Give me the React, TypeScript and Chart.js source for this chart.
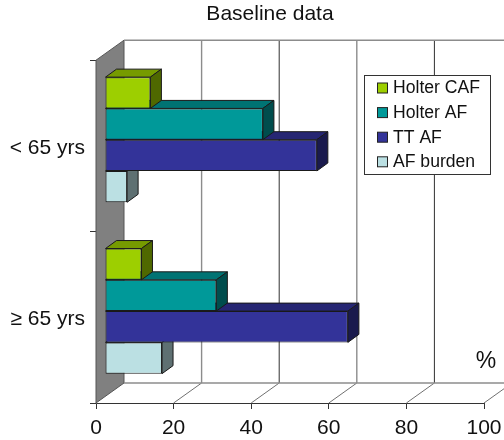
import React, { useEffect, useRef } from "react";
import { Chart, registerables } from "chart.js";

Chart.register(...registerables);

const FONT = "'Liberation Sans', Arial, sans-serif";

const categories = ["< 65 yrs", "≥ 65 yrs"];
const holterCaf = [11.7, 9.4];
const holterAf = [40.7, 28.7];
const ttAf = [54.6, 62.6];
const afBurden = [5.7, 14.7];
const xTicks = [0, 20, 40, 60, 80, 100];

const colors = {
  holterCaf: "#9dcf00",
  holterAf: "#009999",
  ttAf: "#333399",
  afBurden: "#bbe0e3",
};

// Depth of the box around the plot, and of the bars standing inside it.
const WALL = { dx: 28, dy: -20 };
const BAR_INSET = { dx: 9, dy: -6.2 };
const BAR_DEPTH = { dx: 11, dy: -8 };
const TITLE_SHIFT = 28;

function shade(hex: string, f: number) {
  const n = parseInt(hex.slice(1), 16);
  const c = [(n >> 16) & 255, (n >> 8) & 255, n & 255].map((v) => Math.round(v * f));
  return `rgb(${c[0]},${c[1]},${c[2]})`;
}

function poly(ctx: CanvasRenderingContext2D, pts: number[][], fill: string | null, stroke: string, lw = 1) {
  ctx.beginPath();
  pts.forEach((p, i) => (i ? ctx.lineTo(p[0], p[1]) : ctx.moveTo(p[0], p[1])));
  if (fill) {
    ctx.closePath();
    ctx.fillStyle = fill;
    ctx.fill();
  }
  ctx.strokeStyle = stroke;
  ctx.lineWidth = lw;
  ctx.stroke();
}

// Centres the title over the box rather than over the whole canvas.
const titleOffsetPlugin = {
  id: "titleOffset",
  afterLayout(chart: any) {
    const block = chart.titleBlock;
    if (block) {
      block.left += TITLE_SHIFT;
      block.right += TITLE_SHIFT;
    }
  },
};

// Back wall, side wall, floor and grid of the 3D box.
const boxPlugin = {
  id: "box",
  beforeDatasetsDraw(chart: any) {
    const { ctx, chartArea: a, width } = chart;
    const x = chart.scales.x;
    const backTop = a.top + WALL.dy;
    const backBottom = a.bottom + WALL.dy;
    ctx.save();
    poly(
      ctx,
      [
        [a.left, a.top],
        [a.left + WALL.dx, backTop],
        [a.left + WALL.dx, backBottom],
        [a.left, a.bottom],
      ],
      "#808080",
      "#555555"
    );
    xTicks.forEach((v, i) => {
      const px = x.getPixelForValue(v);
      if (v > 0) {
        poly(ctx, [[px, a.bottom], [px + WALL.dx, backBottom]], null, "#707070");
        poly(
          ctx,
          [[px + WALL.dx, backBottom], [px + WALL.dx, backTop]],
          null,
          i % 2 ? "#8c8c8c" : "#303030",
          i % 2 ? 1.4 : 1
        );
      }
    });
    poly(ctx, [[a.left + WALL.dx, backTop], [width, backTop]], null, "#8c8c8c", 1.5);
    poly(ctx, [[a.left + WALL.dx, backBottom], [width, backBottom]], null, "#8c8c8c", 1.5);
    ctx.restore();
  },
};

// Shifts each bar into the box and adds its top and side faces.
const barDepthPlugin = {
  id: "barDepth",
  beforeDatasetDraw(chart: any) {
    chart.ctx.save();
    chart.ctx.translate(BAR_INSET.dx, BAR_INSET.dy);
  },
  afterDatasetDraw(chart: any, args: any) {
    const { ctx } = chart;
    const color = chart.data.datasets[args.index].backgroundColor;
    args.meta.data.forEach((bar: any) => {
      const { x, y, base, height } = bar.getProps(["x", "y", "base", "height"], true);
      const t = y - height / 2;
      const b = y + height / 2;
      const { dx, dy } = BAR_DEPTH;
      poly(ctx, [[base, t], [base + dx, t + dy], [x + dx, t + dy], [x, t]], shade(color, 0.75), "#1a1a1a");
      poly(ctx, [[x, t], [x + dx, t + dy], [x + dx, b + dy], [x, b]], shade(color, 0.5), "#1a1a1a");
    });
    ctx.restore();
  },
};

// Boxed legend inside the plot and the unit label beside the axis.
const annotationsPlugin = {
  id: "annotations",
  afterDraw(chart: any) {
    const { ctx } = chart;
    ctx.save();
    ctx.fillStyle = "#ffffff";
    ctx.fillRect(364.5, 75.5, 126, 99);
    ctx.strokeStyle = "#333333";
    ctx.lineWidth = 1;
    ctx.strokeRect(364.5, 75.5, 126, 99);
    ctx.font = `17.6px ${FONT}`;
    ctx.textAlign = "left";
    ctx.textBaseline = "middle";
    chart.data.datasets.forEach((ds: any, i: number) => {
      const cy = 88 + i * 24.6;
      ctx.fillStyle = ds.backgroundColor;
      ctx.fillRect(377.5, cy - 5, 10, 10);
      ctx.strokeStyle = "#222222";
      ctx.strokeRect(377.5, cy - 5, 10, 10);
      ctx.fillStyle = "#111111";
      ctx.fillText(ds.label, 393, cy + 0.5);
    });
    ctx.font = `23px ${FONT}`;
    ctx.textAlign = "center";
    ctx.fillText("%", 486, 362);
    ctx.restore();
  },
};

export default function App() {
  const ref = useRef<HTMLCanvasElement>(null);

  useEffect(() => {
    const dataset = (label: string, data: number[], color: string) => ({
      label,
      data,
      backgroundColor: color,
      borderColor: "#1a1a1a",
      borderWidth: 1,
      borderSkipped: false,
      barPercentage: 1,
      categoryPercentage: 0.73,
      clip: false,
    });
    const chart = new Chart(ref.current!, {
      type: "bar",
      data: {
        labels: categories,
        datasets: [
          dataset("Holter CAF", holterCaf, colors.holterCaf),
          dataset("Holter AF", holterAf, colors.holterAf),
          dataset("TT AF", ttAf, colors.ttAf),
          dataset("AF burden", afBurden, colors.afBurden),
        ],
      },
      plugins: [titleOffsetPlugin, boxPlugin, barDepthPlugin, annotationsPlugin],
      options: {
        indexAxis: "y",
        responsive: false,
        animation: false,
        layout: { padding: { left: 0, right: 20, top: 0, bottom: 0 } },
        plugins: {
          legend: { display: false },
          tooltip: { enabled: false },
          title: {
            display: true,
            text: "Baseline data",
            color: "#111111",
            font: { family: FONT, size: 21, weight: "normal" },
            padding: { top: 2, bottom: 33 },
          },
        },
        scales: {
          x: {
            type: "linear",
            min: 0,
            max: 100,
            afterFit(s: any) {
              s.height = 37;
              s.paddingLeft = 0;
              s.paddingRight = 0;
            },
            afterBuildTicks(s: any) {
              s.ticks = xTicks.map((value) => ({ value }));
            },
            grid: { drawOnChartArea: false, color: "#333333", tickColor: "#333333", tickLength: 6 },
            border: { color: "#333333" },
            ticks: {
              color: "#111111",
              maxRotation: 0,
              padding: 7,
              font: { family: FONT, size: 21 },
            },
          },
          y: {
            afterFit(s: any) {
              s.width = 96;
            },
            grid: { drawOnChartArea: false, color: "#333333", tickColor: "#333333", tickLength: 6 },
            border: { color: "#555555" },
            ticks: {
              color: "#111111",
              padding: 5,
              labelOffset: 2,
              font: { family: FONT, size: 21 },
            },
          },
        },
      },
    } as any);
    return () => chart.destroy();
  }, []);

  return (
    <div style={{ position: "absolute", left: 0, top: 0, width: 504, height: 440, background: "#ffffff" }}>
      <canvas ref={ref} width={504} height={440} />
    </div>
  );
}
